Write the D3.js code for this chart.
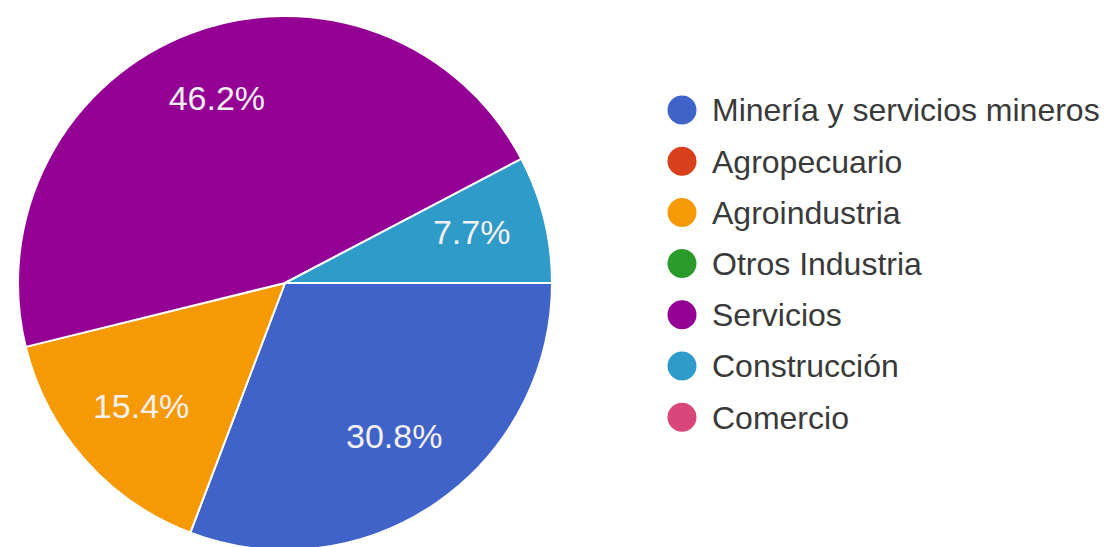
<!DOCTYPE html>
<html>
<head>
<meta charset="utf-8">
<script src="https://cdn.jsdelivr.net/npm/d3@7"></script>
<style>
  html, body { margin: 0; padding: 0; background: #fff; }
  svg { display: block; }
</style>
</head>
<body>
<svg id="chart" width="1106" height="547"></svg>
<script>
// Sectores económicos de las empresas encuestadas
const categories = [
  "Minería y servicios mineros",
  "Agropecuario",
  "Agroindustria",
  "Otros Industria",
  "Servicios",
  "Construcción",
  "Comercio"
];
const counts = [4, 0, 2, 0, 6, 1, 0];
const colors = ["#4063c9", "#d8401c", "#f59a05", "#2a9a2a", "#940094", "#2f9bc8", "#d9467a"];

const width = 1106, height = 547;
const cx = 285, cy = 283, radius = 267;
const labelFont = 34, legendFont = 32;

const svg = d3.select("#chart");
const total = d3.sum(counts);
const data = categories.map((c, i) => ({ name: c, value: counts[i], color: colors[i] }));

// Slices start at 3 o'clock and run clockwise
const pie = d3.pie()
  .value(d => d.value)
  .sort(null)
  .startAngle(Math.PI / 2)
  .endAngle(Math.PI / 2 + 2 * Math.PI);

const arcs = pie(data).filter(d => d.data.value > 0);
const arc = d3.arc().innerRadius(0).outerRadius(radius);
const labelArc = d3.arc().innerRadius(radius * 0.72).outerRadius(radius * 0.72);

const g = svg.append("g").attr("transform", `translate(${cx},${cy})`);

g.selectAll("path.slice")
  .data(arcs)
  .join("path")
  .attr("class", "slice")
  .attr("d", arc)
  .attr("fill", d => d.data.color)
  .attr("stroke", "#ffffff")
  .attr("stroke-width", 2)
  .attr("stroke-linejoin", "round");

g.selectAll("text.pct")
  .data(arcs)
  .join("text")
  .attr("class", "pct")
  .attr("transform", d => {
    const [x, y] = labelArc.centroid(d);
    return `translate(${x},${y - 5})`;
  })
  .attr("text-anchor", "middle")
  .attr("dy", labelFont * 0.358)
  .attr("font-family", "'Liberation Sans', Arial, sans-serif")
  .attr("font-size", labelFont)
  .attr("fill", "#f4f0f4")
  .text(d => (d.data.value / total * 100).toFixed(1) + "%");

// Legend
const legend = svg.append("g").attr("transform", "translate(682,110)");
const rowH = 51.2;
const item = legend.selectAll("g.item")
  .data(data)
  .join("g")
  .attr("class", "item")
  .attr("transform", (d, i) => `translate(0,${i * rowH})`);

item.append("circle")
  .attr("r", 14.5)
  .attr("fill", d => d.color);

item.append("text")
  .attr("x", 30)
  .attr("dy", legendFont * 0.358)
  .attr("font-family", "'Liberation Sans', Arial, sans-serif")
  .attr("font-size", legendFont)
  .attr("fill", "#3a3a3a")
  .text(d => d.name);
</script>
</body>
</html>
